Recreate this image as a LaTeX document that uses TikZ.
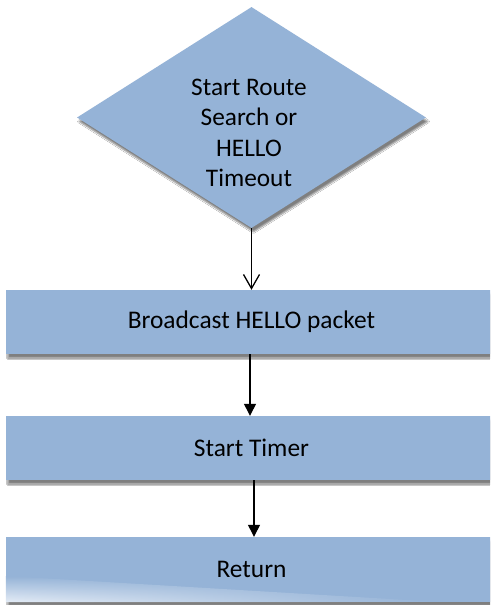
\documentclass[tikz,border=0pt]{standalone}
\usepackage{fontspec}
\setmainfont{Carlito}
\usetikzlibrary{shapes.geometric,arrows.meta,shadows.blur,fadings}
\definecolor{boxblue}{HTML}{95B3D7}
\definecolor{glint}{HTML}{E4ECF6}
\begin{document}
\begin{tikzpicture}[x=1pt,y=-1pt,
  softshadow/.style={blur shadow={shadow xshift=2pt, shadow yshift=-4pt,
      shadow blur radius=1.5pt, shadow blur steps=5, shadow opacity=50}},
  flowbox/.style={rectangle, fill=boxblue, minimum width=491pt,
      minimum height=64pt, inner sep=0pt, softshadow,
      font=\fontsize{25.4}{30}\selectfont},
  decision/.style={diamond, fill=boxblue, aspect=1.58, minimum width=349pt,
      minimum height=221pt, inner sep=0pt, softshadow},
  decisiontext/.style={align=center, inner sep=0pt,
      font=\fontsize{25.3}{30.3}\selectfont},
  openarrow/.style={-{Straight Barb[length=14pt,width=16pt]}, line width=1.3pt},
  solidarrow/.style={-{Triangle[length=12pt,width=12pt]}, line width=1.3pt}]
\clip (0,0) rectangle (490,605);
\fill[white] (0,0) rectangle (490,605);

% decision at the top
\node[decision] (start) at (251.5,117.5) {};
\node[decisiontext] (starttext) at (249,133) {Start Route\\Search or\\HELLO\\Timeout};

% process steps
\node[flowbox] (hello) at (251.5,322) {Broadcast HELLO packet};
\node[flowbox] (timer) at (251.5,448) {Start Timer};
\node[flowbox, minimum height=65pt] (ret) at (251.5,569.5) {Return};

% soft light reflection on the last step
\shade[top color=boxblue, bottom color=glint, path fading=east]
  (6,576) -- (440,602) -- (6,602) -- cycle;

% connectors
\draw[openarrow] (start.south) -- (hello.north);
\draw[solidarrow] ([xshift=-1.5pt]hello.south) -- ([xshift=-1.5pt]timer.north);
\draw[solidarrow] ([xshift=2.5pt]timer.south) -- ([xshift=2.5pt]ret.north);
\end{tikzpicture}
\end{document}
